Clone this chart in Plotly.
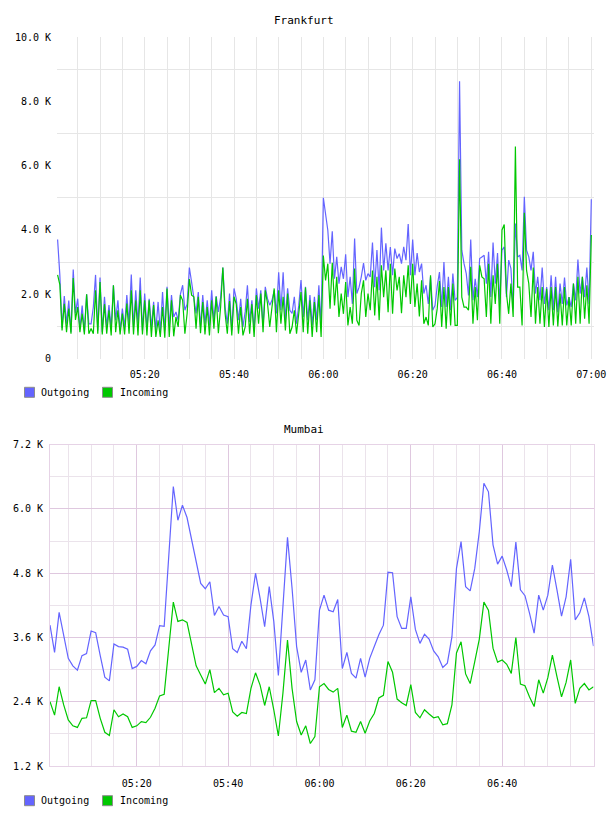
import plotly.graph_objects as go
import pandas as pd

W, H = 608, 816

# ---------------- data (values in thousands) ----------------
fra_start = "2024-01-01 05:00:30"      # 30-second samples
fra_out = [
    3.7, 2.6, 0.95, 1.94, 1.08, 1.8, 0.82, 2.77, 1.4, 1.86,
    0.93, 1.65, 0.82, 2.0, 1.08, 1.08, 1.6, 2.6, 0.87, 2.52,
    0.82, 1.92, 0.98, 1.66, 0.93, 2.28, 1.19, 1.81, 0.87, 1.55,
    0.98, 1.97, 1.08, 2.61, 0.98, 2.12, 1.08, 2.52, 0.87, 2.02,
    0.93, 1.86, 0.98, 1.76, 0.87, 1.76, 0.82, 2.07, 0.87, 2.23,
    0.98, 1.97, 1.29, 1.45, 1.19, 2.0, 2.28, 1.5, 1.69, 2.83,
    2.38, 1.92, 1.4, 2.07, 0.98, 1.97, 1.08, 1.81, 1.03, 2.12,
    1.19, 1.94, 1.45, 1.9, 2.83, 1.6, 1.08, 2.02, 0.87, 2.18,
    1.86, 1.19, 1.86, 0.98, 1.45, 2.28, 1.14, 1.81, 0.87, 2.18,
    1.55, 2.12, 0.98, 2.23, 1.86, 1.66, 1.81, 2.12, 1.4, 2.68,
    1.5, 2.68, 1.19, 2.18, 1.5, 1.4, 1.92, 1.08, 1.66, 2.44,
    1.29, 2.23, 1.19, 1.97, 1.03, 1.92, 1.19, 2.28, 0.98, 5.0,
    4.56, 3.99, 2.95, 3.96, 2.48, 3.16, 2.33, 2.85, 2.48, 3.24,
    1.91, 2.54, 1.7, 3.73, 2.02, 2.22, 2.54, 2.97, 2.43, 2.64,
    2.54, 3.61, 2.22, 3.37, 2.12, 4.07, 2.74, 3.58, 2.74, 3.47,
    2.59, 3.42, 3.11, 3.26, 2.95, 3.47, 3.06, 4.18, 2.59, 3.7,
    2.59, 3.28, 2.69, 2.95, 2.02, 2.28, 1.7, 2.54, 1.5, 1.65,
    2.25, 2.69, 1.6, 3.0, 1.6, 2.54, 1.5, 2.64, 1.81, 1.9,
    8.62, 3.37, 2.95, 2.64, 1.96, 3.7, 1.81, 2.48, 1.91, 3.11,
    3.16, 3.21, 2.33, 3.32, 1.91, 3.61, 2.33, 3.28, 1.7, 3.37,
    3.47, 1.91, 3.06, 2.8, 1.55, 4.2, 3.16, 3.21, 2.74, 5.03,
    3.37, 3.16, 2.74, 3.32, 2.02, 2.54, 1.81, 2.83, 1.7, 2.22,
    1.5, 2.59, 1.5, 2.54, 1.44, 2.33, 1.7, 2.52, 1.65, 1.91,
    1.6, 2.33, 1.81, 3.08, 2.02, 2.54, 1.91, 2.83, 1.7, 4.95,
]
fra_in = [
    2.6, 2.3, 0.87, 1.7, 0.82, 1.55, 0.77, 2.5, 1.2, 1.6,
    0.82, 1.4, 0.75, 2.0, 0.77, 0.93, 0.77, 2.12, 0.77, 2.38,
    0.75, 1.69, 0.77, 1.5, 0.72, 2.28, 0.82, 1.5, 0.75, 1.4,
    0.75, 1.71, 0.77, 2.12, 0.75, 1.81, 0.72, 2.12, 0.75, 1.81,
    0.72, 1.81, 0.67, 1.66, 0.67, 1.19, 0.67, 1.6, 0.65, 2.18,
    0.67, 1.81, 0.69, 1.29, 0.98, 1.97, 1.81, 0.77, 1.4, 2.47,
    1.97, 1.92, 0.93, 1.92, 0.79, 1.76, 0.75, 1.6, 0.72, 1.81,
    0.93, 1.92, 0.79, 1.6, 2.83, 1.4, 0.77, 1.79, 0.72, 1.92,
    1.69, 0.77, 1.6, 0.72, 0.98, 1.86, 0.77, 1.69, 0.67, 1.97,
    1.08, 2.02, 0.82, 2.12, 1.71, 0.98, 1.6, 2.18, 0.82, 2.12,
    1.08, 1.92, 0.875, 2.02, 0.77, 0.98, 1.5, 0.77, 1.4, 2.07,
    0.82, 2.21, 0.77, 1.81, 0.67, 1.76, 0.82, 1.97, 0.67, 3.2,
    2.43, 2.95, 1.55, 2.98, 1.65, 2.54, 1.29, 2.02, 1.39, 2.38,
    1.03, 1.6, 1.08, 2.8, 1.19, 1.03, 2.02, 2.43, 1.29, 2.02,
    1.5, 2.74, 1.34, 2.54, 1.19, 2.9, 1.91, 2.74, 1.44, 2.95,
    1.39, 2.8, 2.12, 2.54, 1.41, 2.59, 1.91, 2.9, 1.7, 2.95,
    1.6, 2.33, 1.31, 2.43, 1.08, 1.29, 1.03, 2.59, 0.98, 1.08,
    1.55, 2.41, 0.98, 2.22, 0.93, 2.22, 1.03, 2.33, 1.03, 1.03,
    6.2, 1.91, 1.6, 1.6, 1.5, 2.85, 1.08, 2.22, 1.19, 2.9,
    2.54, 2.48, 1.29, 2.95, 1.08, 2.59, 1.7, 2.95, 1.08, 4.0,
    4.17, 2.02, 1.39, 2.33, 1.29, 6.59, 2.22, 2.22, 1.03, 4.53,
    2.74, 2.33, 1.29, 2.83, 1.08, 2.22, 1.08, 2.22, 0.98, 2.17,
    0.98, 2.22, 1.03, 2.22, 1.0, 2.02, 1.03, 2.22, 1.03, 1.91,
    1.03, 2.33, 1.08, 2.54, 1.08, 2.54, 1.24, 2.28, 1.08, 3.84,
]

mum_start = "2024-01-01 05:01:00"      # 1-minute samples
mum_out = [
    3.83, 3.32, 4.07, 3.62, 3.21, 3.07, 2.99, 3.26, 3.30, 3.72,
    3.69, 3.26, 2.86, 2.79, 3.48, 3.43, 3.42, 3.38, 3.02, 3.06,
    3.17, 3.11, 3.35, 3.46, 3.82, 3.81, 5.10, 6.42, 5.79, 6.07,
    5.84, 5.42, 4.98, 4.61, 4.51, 4.64, 4.01, 4.18, 4.02, 3.99,
    3.39, 3.32, 3.53, 3.39, 4.21, 4.80, 4.33, 3.80, 4.55, 3.90,
    2.89, 4.18, 5.47, 4.52, 3.43, 2.95, 3.18, 2.62, 2.81, 4.11,
    4.39, 4.11, 4.08, 4.31, 3.02, 3.32, 2.93, 2.84, 3.21, 2.86,
    3.21, 3.43, 3.65, 3.83, 4.82, 4.81, 3.99, 3.77, 3.77, 4.36,
    3.75, 3.49, 3.66, 3.57, 3.35, 3.24, 3.04, 3.12, 3.61, 4.89,
    5.39, 4.55, 4.47, 4.89, 5.58, 6.48, 6.32, 5.33, 4.97, 5.12,
    4.86, 4.55, 5.38, 4.49, 4.38, 4.05, 3.68, 4.39, 4.11, 4.39,
    4.95, 4.49, 4.00, 4.36, 5.06, 3.93, 4.06, 4.34, 3.99, 3.44,
]
mum_in = [
    2.40, 2.15, 2.68, 2.34, 2.06, 1.95, 1.92, 2.09, 2.10, 2.42,
    2.42, 2.09, 1.83, 1.77, 2.25, 2.12, 2.17, 2.12, 1.92, 1.95,
    2.03, 2.01, 2.11, 2.28, 2.51, 2.54, 3.40, 4.26, 3.90, 3.93,
    3.88, 3.46, 3.07, 2.90, 2.73, 3.00, 2.57, 2.65, 2.53, 2.56,
    2.21, 2.13, 2.20, 2.18, 2.65, 2.94, 2.71, 2.33, 2.68, 2.25,
    1.76, 2.56, 3.55, 2.65, 2.03, 1.78, 1.95, 1.62, 1.75, 2.68,
    2.74, 2.63, 2.58, 2.65, 1.92, 2.15, 1.85, 1.83, 2.03, 1.81,
    2.04, 2.18, 2.47, 2.52, 3.15, 2.95, 2.45, 2.38, 2.33, 2.72,
    2.20, 2.10, 2.25, 2.17, 2.10, 2.12, 1.97, 1.99, 2.34, 3.31,
    3.52, 2.92, 2.74, 3.15, 3.57, 4.26, 4.11, 3.40, 3.14, 3.18,
    3.10, 2.93, 3.60, 2.73, 2.70, 2.49, 2.31, 2.81, 2.56, 2.85,
    3.27, 2.87, 2.49, 2.76, 3.18, 2.37, 2.65, 2.74, 2.62, 2.68,
]

series_names = ["Outgoing", "Incoming"]
series_colors = ["#6464FF", "#00C800"]

fra_yticks = [0, 2, 4, 6, 8, 10]
fra_ytext = ["0", "2.0 K", "4.0 K", "6.0 K", "8.0 K", "10.0 K"]
mum_yticks = [1.2, 2.4, 3.6, 4.8, 6.0, 7.2]
mum_ytext = ["1.2 K", "2.4 K", "3.6 K", "4.8 K", "6.0 K", "7.2 K"]
fra_xticks = ["05:20", "05:40", "06:00", "06:20", "06:40", "07:00"]
mum_xticks = ["05:20", "05:40", "06:00", "06:20", "06:40"]

# ---------------- build ----------------
DAY = "2024-01-01 "
fra_t = pd.date_range(fra_start, periods=len(fra_out), freq="30s")
mum_t = pd.date_range(mum_start, periods=len(mum_out), freq="1min")

FONT = "DejaVu Sans Mono"


def px(x):
    return x / W


def py(y):
    return 1 - y / H


fig = go.Figure()
for name, col, ys in zip(series_names, series_colors, [fra_out, fra_in]):
    fig.add_trace(go.Scatter(x=fra_t, y=ys, mode="lines", name=name,
                             line=dict(color=col, width=1.2), showlegend=False,
                             xaxis="x", yaxis="y"))
for name, col, ys in zip(series_names, series_colors, [mum_out, mum_in]):
    fig.add_trace(go.Scatter(x=mum_t, y=ys, mode="lines", name=name,
                             line=dict(color=col, width=1.2), showlegend=False,
                             xaxis="x2", yaxis="y2"))

minor5 = [str(t) for t in pd.date_range(DAY + "05:05", DAY + "06:55", freq="5min")]

FGRID = "#e6e6e6"
MGRID_MAJ = "#dfc8df"
MGRID_MIN = "#ebe3eb"
MBORDER = "#e6d3e6"
tickfont = dict(family=FONT, size=10, color="#000000")

fig.update_layout(
    width=W, height=H, autosize=False,
    margin=dict(l=0, r=0, t=0, b=0, pad=0),
    paper_bgcolor="white", plot_bgcolor="white",
    showlegend=False,
    xaxis=dict(
        domain=[px(57), px(594)], anchor="y", type="date",
        range=[DAY + "05:00:22", DAY + "07:00:36"],
        tickmode="array", tickvals=[DAY + t for t in fra_xticks], ticktext=fra_xticks,
        showgrid=True, gridcolor=FGRID, gridwidth=1,
        minor=dict(tickmode="array", tickvals=minor5, showgrid=True,
                   gridcolor=FGRID, gridwidth=1, ticks=""),
        ticks="", showline=False, zeroline=False, automargin=False,
        tickfont=tickfont, ticklabelstandoff=8,
    ),
    yaxis=dict(
        domain=[py(358.5), py(37)], anchor="x",
        range=[0, 10], tickmode="array", tickvals=fra_yticks, ticktext=fra_ytext,
        showgrid=False,
        minor=dict(tickmode="array", tickvals=[1, 3, 5, 7, 9], showgrid=True,
                   gridcolor=FGRID, gridwidth=1, ticks=""),
        ticks="", showline=False, zeroline=False, automargin=False,
        tickfont=tickfont, ticklabelstandoff=5,
    ),
    xaxis2=dict(
        domain=[px(50), px(593.5)], anchor="y2", type="date",
        range=[DAY + "05:01:00", DAY + "07:00:00"],
        tickmode="array", tickvals=[DAY + t for t in mum_xticks], ticktext=mum_xticks,
        showgrid=True, gridcolor=MGRID_MAJ, gridwidth=1,
        minor=dict(tickmode="array", tickvals=minor5, showgrid=True,
                   gridcolor=MGRID_MIN, gridwidth=1, ticks=""),
        ticks="", showline=True, mirror=True, linecolor=MBORDER, linewidth=1,
        zeroline=False, automargin=False, tickfont=tickfont, ticklabelstandoff=8,
    ),
    yaxis2=dict(
        domain=[py(766), py(444.7)], anchor="x2",
        range=[1.2, 7.2], tickmode="array", tickvals=mum_yticks, ticktext=mum_ytext,
        showgrid=True, gridcolor=MGRID_MAJ, gridwidth=1,
        minor=dict(tickmode="array", tickvals=[1.8, 3.0, 4.2, 5.4, 6.6], showgrid=True,
                   gridcolor=MGRID_MIN, gridwidth=1, ticks=""),
        ticks="", showline=True, mirror=True, linecolor=MBORDER, linewidth=1,
        zeroline=False, automargin=False, tickfont=tickfont, ticklabelstandoff=4,
    ),
)

# titles
for txt, yc in [("Frankfurt", 20), ("Mumbai", 429)]:
    fig.add_annotation(text=txt, xref="paper", yref="paper", x=px(304), y=py(yc),
                       xanchor="center", yanchor="middle", showarrow=False,
                       font=dict(family=FONT, size=11, color="#000000"))

# legends (swatch + label)
legend_x = [(24.5, 39.0), (102.5, 117.5)]
for yc in [392.3, 800.7]:
    for (sx, tx), name, col in zip(legend_x, series_names, series_colors):
        fig.add_shape(type="rect", xref="paper", yref="paper",
                      x0=px(sx), x1=px(sx + 10), y0=py(yc + 5), y1=py(yc - 5),
                      fillcolor=col, line=dict(color="#8c8c8c", width=1))
        fig.add_annotation(text=name, xref="paper", yref="paper", x=px(tx), y=py(yc),
                           xanchor="left", yanchor="middle", showarrow=False,
                           font=dict(family=FONT, size=10, color="#000000"))

fig.write_html("out.html")
